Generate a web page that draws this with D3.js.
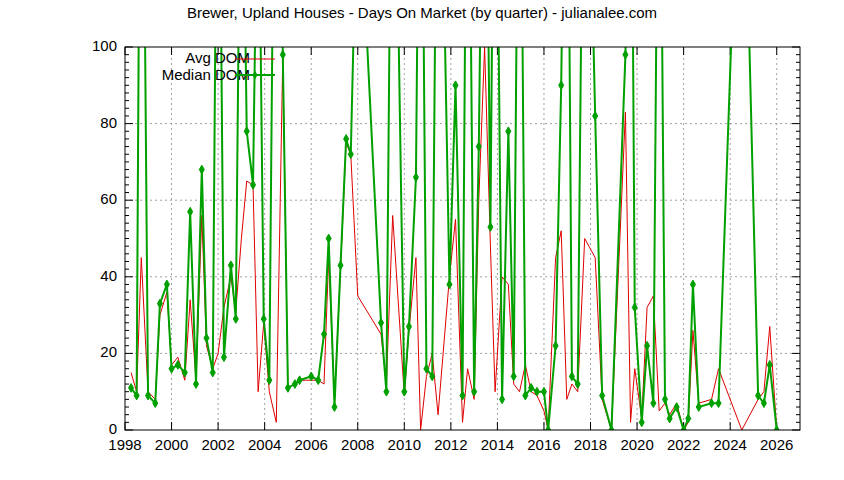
<!DOCTYPE html>
<html><head><meta charset="utf-8">
<script src="https://cdn.jsdelivr.net/npm/d3@7"></script>
<style>body{margin:0;background:#fff}text{font-family:"Liberation Sans",Arial,sans-serif}</style>
</head><body>
<script>
// quarter dates (decimal years) and values
var dates = [1998.26,1998.5,1998.7,1998.99,1999.3,1999.5,1999.8,2000.0,2000.27,2000.57,2000.8,2001.05,2001.3,2001.5,2001.77,2002.0,2002.25,2002.55,2002.76,2003.0,2003.23,2003.5,2003.72,2003.96,2004.2,2004.5,2004.78,2005.0,2005.3,2005.5,2006.0,2006.3,2006.55,2006.75,2007.0,2007.26,2007.5,2007.7,2008.0,2009.0,2009.23,2009.5,2010.0,2010.2,2010.5,2010.7,2010.95,2011.2,2011.45,2011.94,2012.2,2012.5,2012.72,2013.0,2013.2,2013.45,2013.7,2013.9,2014.2,2014.47,2014.7,2014.95,2015.2,2015.45,2015.7,2016.0,2016.18,2016.5,2016.74,2016.98,2017.2,2017.45,2017.75,2018.2,2018.5,2018.9,2019.5,2019.72,2019.9,2020.2,2020.43,2020.7,2020.95,2021.2,2021.4,2021.7,2022.0,2022.2,2022.4,2022.65,2023.2,2023.5,2024.5,2025.2,2025.45,2025.7,2026.0];
var median = [11,9,220,9,7,33,38,16,17,15,57,12,68,24,15,200,19,43,29,180,78,64,160,29,13,220,98,11,12,13,14,13,25,50,6,43,76,72,150,28,10,200,10,27,66,200,16,14,200,38,90,9,200,10,74,200,53,200,8,78,14,200,9,11,10,10,0,22,90,200,14,12,200,82,9,0,98,200,32,2,22,7,200,8,3,6,0,3,38,6,7,7,180,9,7,17,0];
var avg = [15,10,45,10,8,30,36,17,19,13,34,13,56,22,16,20,32,40,31,50,65,64,10,28,10,2,98,11,12,13,13,13,12,45,8,42,75,72,35,25,12,56,9,26,45,0,14,20,4,40,55,2,16,8,60,100,48,10,40,38,12,10,17,10,9,5,0,45,52,8,12,10,50,45,8,0,83,2,16,3,32,35,5,7,4,7,0,2,26,7,8,16,0,8,10,27,0];
var yTicks = [0,20,40,60,80,100];
var xTicks = d3.range(1998, 2027, 2);

var W = 844, H = 480, m = {l:125, r:44, t:47, b:50};
var svg = d3.select("body").append("svg").attr("width", W).attr("height", H);
var x = d3.scaleLinear().domain([1998, 2027]).range([m.l, W - m.r]);
var y = d3.scaleLinear().domain([0, 100]).range([H - m.b, m.t]);

svg.append("text").attr("x", 422).attr("y", 18).attr("text-anchor", "middle")
  .style("font-size", "15px").text("Brewer, Upland Houses - Days On Market (by quarter) - julianalee.com");

svg.append("clipPath").attr("id", "c").append("rect")
  .attr("x", m.l).attr("y", m.t).attr("width", W - m.l - m.r).attr("height", H - m.t - m.b);

// grid
var g = svg.append("g").attr("stroke", "#a0a0a0").attr("stroke-dasharray", "2,3").attr("stroke-width", 1);
xTicks.slice(1).forEach(function(t){ g.append("line").attr("x1", x(t)).attr("x2", x(t)).attr("y1", y(0)).attr("y2", y(100)); });
yTicks.slice(1, -1).forEach(function(t){ g.append("line").attr("x1", x(1998)).attr("x2", x(2027)).attr("y1", y(t)).attr("y2", y(t)); });

// ticks
var tk = svg.append("g").attr("stroke", "#000");
d3.range(0, 101, 2).forEach(function(t){
  var L = t % 20 === 0 ? 8 : 4;
  tk.append("line").attr("x1", x(1998)).attr("x2", x(1998) + L).attr("y1", y(t)).attr("y2", y(t));
  tk.append("line").attr("x1", x(2027)).attr("x2", x(2027) - L).attr("y1", y(t)).attr("y2", y(t));
});
xTicks.forEach(function(t){
  tk.append("line").attr("x1", x(t)).attr("x2", x(t)).attr("y1", y(0)).attr("y2", y(0) - 8);
  tk.append("line").attr("x1", x(t)).attr("x2", x(t)).attr("y1", y(100)).attr("y2", y(100) + 8);
  svg.append("text").attr("x", x(t)).attr("y", y(0) + 20).attr("text-anchor", "middle").style("font-size", "15px").text(t);
});
yTicks.forEach(function(t){
  svg.append("text").attr("x", x(1998) - 8).attr("y", y(t) + 4).attr("text-anchor", "end").style("font-size", "15px").text(t);
});

var plot = svg.append("g").attr("clip-path", "url(#c)");
var line = d3.line().x(function(d){ return x(d[0]); }).y(function(d){ return y(d[1]); });
plot.append("path").datum(d3.zip(dates, avg)).attr("d", line).attr("fill", "none").attr("stroke", "#e00000").attr("stroke-width", 1);
plot.append("path").datum(d3.zip(dates, median)).attr("d", line).attr("fill", "none").attr("stroke", "#00a000").attr("stroke-width", 2);
var sym = d3.symbol().type(d3.symbolDiamond).size(22);
plot.selectAll(".pt").data(d3.zip(dates, median)).enter().append("path")
  .attr("transform", function(d){ return "translate(" + x(d[0]) + "," + y(d[1]) + ")"; })
  .attr("d", sym).attr("fill", "#00a000").attr("stroke", "#00a000");

// legend
svg.append("text").attr("x", 250).attr("y", 63).attr("text-anchor", "end").style("font-size", "15px").text("Avg DOM");
svg.append("line").attr("x1", 235).attr("x2", 275).attr("y1", 59).attr("y2", 59).attr("stroke", "#e00000");
svg.append("text").attr("x", 250).attr("y", 80).attr("text-anchor", "end").style("font-size", "15px").text("Median DOM");
svg.append("line").attr("x1", 235).attr("x2", 275).attr("y1", 75).attr("y2", 75).attr("stroke", "#00a000").attr("stroke-width", 2);
svg.append("path").attr("transform", "translate(255,75)").attr("d", sym).attr("fill", "#00a000");

// border
svg.append("rect").attr("x", x(1998)).attr("y", y(100)).attr("width", x(2027) - x(1998)).attr("height", y(0) - y(100))
  .attr("fill", "none").attr("stroke", "#000");
</script>
</body></html>
